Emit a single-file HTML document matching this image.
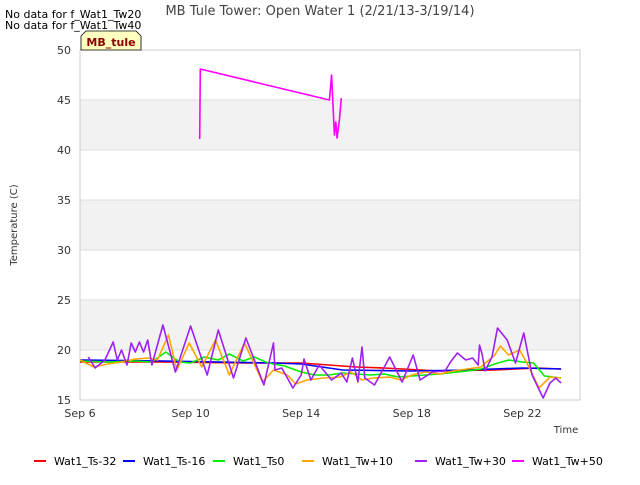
<!DOCTYPE html>
<html><head><meta charset="utf-8"><style>
body{margin:0;background:#fff;font-family:"Liberation Sans","DejaVu Sans",sans-serif}
svg text{font-family:"DejaVu Sans","Liberation Sans",sans-serif}
</style></head><body>
<svg id="chart" width="640" height="480" xmlns="http://www.w3.org/2000/svg">
<rect width="640" height="480" fill="#fff"/>
<g id="bands"></g><g id="grid"></g>
<rect x="80" y="50" width="500" height="350" fill="none" stroke="#ccc"/>
<g id="series"></g><g id="ticks"></g>
<text x="320" y="15" text-anchor="middle" font-size="13" fill="#444">MB Tule Tower: Open Water 1 (2/21/13-3/19/14)</text>
<text x="5" y="18" font-size="11" fill="#000">No data for f_Wat1_Tw20</text>
<text x="5" y="29" font-size="11" fill="#000">No data for f_Wat1_Tw40</text>
<path d="M81,50 L81,36 L86,31 L136,31 L141,36 L141,50 Z" fill="#ffffc0" stroke="#000" stroke-width="0.8"/>
<text x="111" y="46" text-anchor="middle" font-size="11" font-weight="bold" fill="#8b0000">MB_tule</text>
<text transform="translate(17,225) rotate(-90)" text-anchor="middle" font-size="10" fill="#333">Temperature (C)</text>
<text x="566" y="433" text-anchor="middle" font-size="10" fill="#333">Time</text>
<g id="legend"></g>
</svg>
<script>
const yTicks=[15,20,25,30,35,40,45,50];
const xTickDays=[0,4,8,12,16];
const xTickLabels=["Sep 6","Sep 10","Sep 14","Sep 18","Sep 22"];
const seriesNames=["Wat1_Ts-32","Wat1_Ts-16","Wat1_Ts0","Wat1_Tw+10","Wat1_Tw+30","Wat1_Tw+50"];
const seriesColors=["#ff0000","#0000ff","#00ee00","#ffa500","#a020f0","#ff00ff"];
const tRed=[0,3,6,8,9,10,11,13,15,16.5,17.4];
const vRed=[18.8,18.8,18.7,18.7,18.5,18.3,18.2,17.9,18.0,18.2,18.1];
const tBlue=[0,3,7,8,9.5,12,14,16,17.4];
const vBlue=[19.0,18.9,18.7,18.6,18.0,17.9,18.0,18.2,18.1];
const tGreen=[0,1,2,2.6,3.1,3.6,4.0,4.5,5.0,5.4,5.9,6.3,6.8,7.4,8.0,8.5,9.0,9.5,10,10.5,11,11.5,12,13,14,14.5,15,15.5,16.0,16.4,16.8,17.4];
const vGreen=[18.9,18.8,18.9,18.8,19.8,18.8,18.7,19.3,19.0,19.6,18.9,19.3,18.7,18.4,17.8,17.5,17.5,17.7,17.6,17.5,17.6,17.3,17.4,17.6,17.9,18.1,18.6,19.0,18.8,18.7,17.4,17.2];
const tOrange=[0,0.5,1,1.5,2,2.5,2.8,3.2,3.5,3.95,4.4,4.9,5.4,5.95,6.6,7.0,7.5,7.8,8.2,8.8,9.4,9.8,10.2,10.6,11.2,11.6,12.0,12.5,13,13.5,14.0,14.5,15.0,15.2,15.5,15.9,16.2,16.6,17.0,17.4];
const vOrange=[19.0,18.3,18.6,18.8,19.1,19.2,19.0,21.5,18.0,20.7,18.3,21.0,17.5,20.7,16.8,18.0,17.5,16.6,17.0,17.2,17.3,17.8,17.0,17.2,17.3,17.0,17.5,17.8,17.6,17.9,18.1,18.3,19.5,20.4,19.5,20.0,18.5,16.2,17.3,17.2];
const tPurple=[0.3,0.55,0.9,1.2,1.35,1.5,1.7,1.85,2.0,2.15,2.3,2.45,2.6,3.0,3.45,4.0,4.6,5.0,5.55,6.0,6.65,7.0,7.05,7.3,7.7,8.0,8.1,8.35,8.65,9.1,9.45,9.65,9.85,10.05,10.2,10.3,10.65,11.2,11.65,12.05,12.3,12.75,13.2,13.4,13.65,13.95,14.2,14.4,14.45,14.55,14.65,14.9,15.1,15.45,15.75,16.05,16.35,16.75,17.0,17.2,17.4];
const vPurple=[19.3,18.2,19.0,20.8,19.0,20.0,18.5,20.7,19.8,20.8,19.8,21.0,18.5,22.5,17.8,22.4,17.5,22.0,17.2,21.2,16.5,20.7,18.0,18.2,16.2,17.5,19.1,17.0,18.5,17.0,17.7,16.8,19.2,16.8,20.3,17.2,16.5,19.3,16.8,19.5,17.0,17.8,17.9,18.8,19.7,19.0,19.2,18.5,20.5,19.5,17.9,19.3,22.2,21.0,18.7,21.7,17.5,15.2,16.7,17.2,16.7];
const tMagenta=[4.33,4.35,9.02,9.1,9.2,9.25,9.3,9.38,9.45];
const vMagenta=[41.1,48.1,45.0,47.5,41.5,42.8,41.2,43.0,45.2];
const tAll=[tRed,tBlue,tGreen,tOrange,tPurple,tMagenta];
const vAll=[vRed,vBlue,vGreen,vOrange,vPurple,vMagenta];

const NS="http://www.w3.org/2000/svg";
const X=d=>80+d*27.65, Y=v=>400-(v-15)*10;
function mk(tag,attrs,parent){const e=document.createElementNS(NS,tag);for(const k in attrs)e.setAttribute(k,attrs[k]);document.getElementById(parent).appendChild(e);return e;}
for(let i=0;i<yTicks.length-1;i++){
  if(i%2==1){const r=mk('rect',{x:80,y:Y(yTicks[i+1]),width:500,height:Y(yTicks[i])-Y(yTicks[i+1]),fill:'#f2f2f2'},'bands');
  
  }
}
yTicks.forEach(v=>{
  const l=mk('line',{x1:80,x2:580,y1:Y(v),y2:Y(v),stroke:'#ddd'},'grid');
  
  
  const t=mk('text',{x:71,y:Y(v)+4,'text-anchor':'end','font-size':11,fill:'#333'},'ticks');t.textContent=v;
  
  
});
xTickDays.forEach((d,i)=>{
  const t=mk('text',{x:X(d),y:417,'text-anchor':'middle','font-size':11,fill:'#333'},'ticks');t.textContent=xTickLabels[i];
  
  
});
tAll.forEach((ts,s)=>{
  const pts=ts.map((t,i)=>X(t).toFixed(1)+','+Y(vAll[s][i]).toFixed(1)).join(' ');
  const p=mk('polyline',{points:pts,fill:'none',stroke:seriesColors[s],'stroke-width':1.6,'stroke-linejoin':'round'},'series');
  
  
});
const legX=[34,123,213,302,415,512];
seriesNames.forEach((n,i)=>{
  const l=mk('line',{x1:legX[i],x2:legX[i]+12,y1:461,y2:461,stroke:seriesColors[i],'stroke-width':2},'legend');
  
  
  const t=mk('text',{x:legX[i]+20,y:465,'font-size':11,fill:'#000'},'legend');t.textContent=n;
  
  
});
</script>
</body></html>
